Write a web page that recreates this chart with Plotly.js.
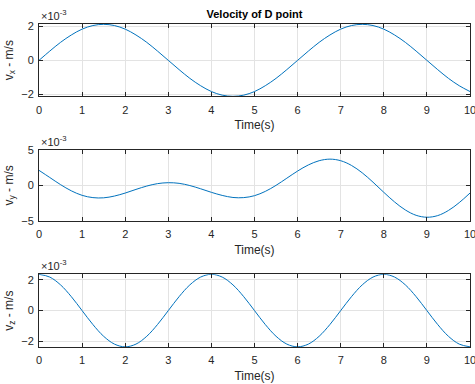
<!DOCTYPE html>
<html>
<head>
<meta charset="utf-8">
<script src="https://cdn.plot.ly/plotly-3.0.1.min.js"></script>
<style>
  html, body { margin: 0; padding: 0; background: #fff; }
  #chart { width: 475px; height: 384px; }
</style>
</head>
<body>
<div id="chart"></div>
<script>
// Sample times (s)
const time = [0, 0.25, 0.5, 0.75, 1, 1.25, 1.5, 1.75, 2, 2.25, 2.5, 2.75, 3, 3.25, 3.5, 3.75,
  4, 4.25, 4.5, 4.75, 5, 5.25, 5.5, 5.75, 6, 6.25, 6.5, 6.75, 7, 7.25, 7.5, 7.75,
  8, 8.25, 8.5, 8.75, 9, 9.25, 9.5, 9.75, 10];

// Velocity components of point D, in units of 1e-3 m/s
const vx = [0, 0.54, 1.05, 1.48, 1.82, 2.03, 2.10, 2.03, 1.82, 1.48, 1.05, 0.54, 0, -0.54, -1.05, -1.48,
  -1.82, -2.03, -2.10, -2.03, -1.82, -1.48, -1.05, -0.54, 0, 0.54, 1.05, 1.48, 1.82, 2.03, 2.10, 2.03,
  1.82, 1.48, 1.05, 0.54, 0, -0.54, -1.05, -1.48, -1.82];
const vy = [2.10, 1.10, 0.10, -0.77, -1.40, -1.72, -1.75, -1.50, -1.08, -0.57, -0.10, 0.24, 0.37, 0.28, -0.03, -0.48,
  -0.98, -1.41, -1.70, -1.72, -1.45, -0.85, 0.0, 1.0, 2.0, 2.86, 3.45, 3.67, 3.45, 2.79, 1.75, 0.44,
  -0.98, -2.33, -3.45, -4.20, -4.47, -4.24, -3.52, -2.42, -1.08];
const vz = [2.37, 2.19, 1.68, 0.91, 0, -0.91, -1.68, -2.19, -2.37, -2.19, -1.68, -0.91, 0, 0.91, 1.68, 2.19,
  2.37, 2.19, 1.68, 0.91, 0, -0.91, -1.68, -2.19, -2.37, -2.19, -1.68, -0.91, 0, 0.91, 1.68, 2.19,
  2.37, 2.19, 1.68, 0.91, 0, -0.91, -1.68, -2.19, -2.37];

const xTicks = [0, 1, 2, 3, 4, 5, 6, 7, 8, 9, 10];
const yTicksX = [-2, 0, 2];
const yTicksY = [-5, 0, 5];
const yTicksZ = [-2, 0, 2];

const titleText = 'Velocity of D point';
const xLabel = 'Time(s)';
const yLabels = ['v<sub>x</sub> - m/s', 'v<sub>y</sub> - m/s', 'v<sub>z</sub> - m/s'];
const exponentText = '\u00d710<sup>-3</sup>';

const INK = '#262626';
const GRID = '#e3e3e3';
const LINE = '#0072BD';
const FONT = 'Liberation Sans, Arial, Helvetica, sans-serif';

function xAxis(anchor) {
  return {
    anchor: anchor, range: [0, 10], tickvals: xTicks,
    ticks: 'inside', ticklen: 4, tickcolor: INK, tickwidth: 1,
    showline: true, linecolor: INK, linewidth: 1, mirror: 'ticks',
    showgrid: true, gridcolor: GRID, gridwidth: 1, zeroline: false,
    ticklabeloverflow: 'allow', ticklabelstandoff: 3,
    tickfont: { family: FONT, size: 11, color: INK },
    title: { text: xLabel, font: { family: FONT, size: 12, color: INK }, standoff: 6 }
  };
}
function yAxis(anchor, domain, range, ticks, label) {
  return {
    anchor: anchor, domain: domain, range: range, tickvals: ticks,
    ticks: 'inside', ticklen: 4, tickcolor: INK, tickwidth: 1,
    showline: true, linecolor: INK, linewidth: 1, mirror: 'ticks',
    showgrid: true, gridcolor: GRID, gridwidth: 1, zeroline: false,
    ticklabelstandoff: 2,
    tickfont: { family: FONT, size: 11, color: INK },
    title: { text: label, font: { family: FONT, size: 12, color: INK }, standoff: 5 }
  };
}

const series = [vx, vy, vz];
const traces = series.map((v, i) => ({
  type: 'scatter', mode: 'lines', x: time, y: v,
  xaxis: i === 0 ? 'x' : 'x' + (i + 1),
  yaxis: i === 0 ? 'y' : 'y' + (i + 1),
  line: { color: LINE, width: 1, shape: 'spline', smoothing: 1 },
  hoverinfo: 'x+y'
}));

const exponentNotes = ['y', 'y2', 'y3'].map((ya, i) => ({
  text: exponentText, showarrow: false,
  xref: (i === 0 ? 'x' : 'x' + (i + 1)) + ' domain', x: 0, xanchor: 'left',
  yref: ya + ' domain', y: 1, yanchor: 'bottom', yshift: 0,
  font: { family: FONT, size: 11, color: INK }
}));

const layout = {
  width: 475, height: 384,
  paper_bgcolor: '#fff', plot_bgcolor: '#fff',
  margin: { l: 39, r: 5, t: 24, b: 37 },
  showlegend: false,
  title: {
    text: titleText, x: 0.5, xref: 'paper', xanchor: 'center',
    y: 1 - 14 / 384, yref: 'container', yanchor: 'middle',
    font: { family: FONT, size: 11, color: '#000', weight: 'bold' }
  },
  xaxis: xAxis('y'),
  xaxis2: xAxis('y2'),
  xaxis3: xAxis('y3'),
  yaxis: yAxis('x', [0.776, 1], [-2.1, 2.12], yTicksX, yLabels[0]),
  yaxis2: yAxis('x2', [0.390, 0.611], [-5, 5], yTicksY, yLabels[1]),
  yaxis3: yAxis('x3', [0, 0.225], [-2.38, 2.37], yTicksZ, yLabels[2]),
  annotations: exponentNotes
};

Plotly.newPlot('chart', traces, layout, { displayModeBar: false, staticPlot: true });
</script>
</body>
</html>
